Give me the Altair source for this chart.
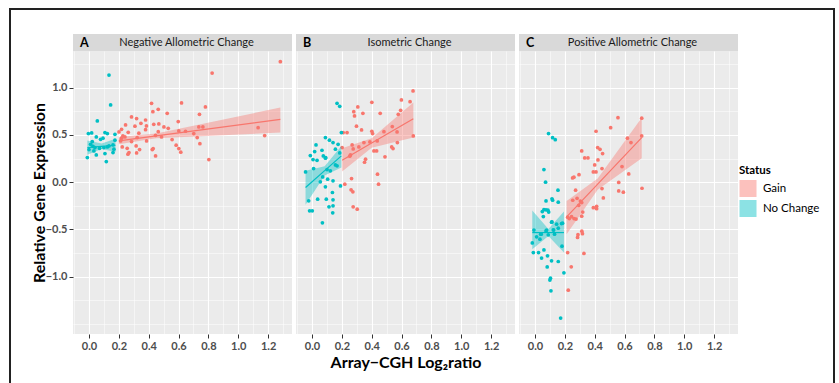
import altair as alt
import pandas as pd

# ---------------- data ----------------
panel_ids = ["A", "B", "C"]
panel_titles = ["Negative Allometric Change", "Isometric Change", "Positive Allometric Change"]
statuses = ["Gain", "No Change"]
status_colors = ["#F8766D", "#00BFC4"]

x_breaks = [-0.1, 0.0, 0.1, 0.2, 0.3, 0.4, 0.5, 0.6, 0.7, 0.8, 0.9, 1.0, 1.1, 1.2, 1.3]
y_breaks = [-1.5, -1.25, -1.0, -0.75, -0.5, -0.25, 0.0, 0.25, 0.5, 0.75, 1.0, 1.25]
x_domain = [-0.107, 1.36]
y_domain = [-1.606, 1.388]

# Panel A  (Negative Allometric Change)
a_nc_x = [-0.004, 0.018, 0.107, 0.123, 0.174, 0.049, 0.078, 0.094, 0.022, 0.011, 0.040, 0.071,
          0.100, 0.123, 0.134, 0.161, 0.167, 0.161, 0.107, 0.049, 0.033, -0.011, 0.116, 0.174,
          0.000, 0.134, 0.145, 0.056, 0.027]
a_nc_y = [0.514, 0.521, 0.525, 0.514, 0.507, 0.479, 0.454, 0.465, 0.430, 0.401, 0.366, 0.359,
          0.366, 0.373, 0.384, 0.394, 0.349, 0.313, 0.303, 0.289, 0.331, 0.261, 0.218, 0.444,
          0.345, 1.134, 0.817, 0.648, 0.380]
a_g_x = [1.282, 0.825, 0.419, 0.620, 0.464, 0.428, 0.780, 0.524, 0.740, 0.285, 0.319, 0.379,
         0.598, 0.348, 0.245, 0.434, 0.468, 0.308, 0.385, 0.502, 0.531, 0.736, 0.763, 0.218,
         0.263, 0.379, 0.464, 0.334, 0.602, 0.647, 0.702, 1.133, 1.177, 0.201, 0.227, 0.241,
         0.218, 0.212, 0.323, 0.446, 0.486, 0.557, 0.725, 0.743, 0.584, 0.386, 0.285, 0.223,
         0.256, 0.316, 0.339, 0.424, 0.430, 0.602, 0.615, 0.268, 0.261, 0.319, 0.446, 0.803]
a_g_y = [1.275, 1.155, 0.835, 0.838, 0.771, 0.746, 0.796, 0.729, 0.718, 0.690, 0.673, 0.658,
         0.641, 0.623, 0.606, 0.613, 0.616, 0.592, 0.595, 0.585, 0.570, 0.585, 0.585, 0.560,
         0.528, 0.556, 0.535, 0.518, 0.542, 0.539, 0.514, 0.577, 0.493, 0.532, 0.489, 0.479,
         0.465, 0.437, 0.472, 0.496, 0.479, 0.451, 0.472, 0.408, 0.391, 0.437, 0.430, 0.373,
         0.359, 0.384, 0.345, 0.345, 0.356, 0.356, 0.317, 0.313, 0.296, 0.310, 0.278, 0.239]

# Panel B  (Isometric Change)
b_nc_x = [0.168, 0.186, 0.197, 0.090, 0.117, 0.141, 0.175, 0.027, 0.067, 0.018, 0.157, 0.186,
          -0.011, 0.076, 0.090, 0.007, 0.034, 0.092, -0.043, 0.011, 0.101, 0.123, 0.157, 0.168,
          0.141, 0.105, 0.072, 0.056, 0.090, 0.191, 0.137, -0.022, 0.038, 0.096, 0.141, 0.114,
          0.141, -0.016, 0.002, 0.139, 0.070]
b_nc_y = [0.835, 0.803, 0.525, 0.472, 0.444, 0.419, 0.401, 0.394, 0.338, 0.324, 0.349, 0.310,
          0.282, 0.278, 0.254, 0.239, 0.232, 0.261, 0.109, 0.144, 0.134, 0.120, 0.183, 0.173,
          0.014, 0.032, 0.056, 0.004, -0.049, -0.039, -0.109, -0.197, -0.180, -0.180, -0.187,
          -0.261, -0.250, -0.303, -0.303, -0.324, -0.430]
b_g_x = [0.677, 0.657, 0.599, 0.401, 0.307, 0.280, 0.341, 0.285, 0.457, 0.594, 0.578, 0.298,
         0.332, 0.538, 0.570, 0.482, 0.401, 0.406, 0.679, 0.209, 0.235, 0.437, 0.388, 0.348,
         0.314, 0.572, 0.269, 0.276, 0.202, 0.415, 0.433, 0.534, 0.543, 0.258, 0.253, 0.359,
         0.352, 0.489, 0.439, 0.446, 0.265, 0.220, 0.262, 0.274, 0.276, 0.303]
b_g_y = [0.965, 0.852, 0.870, 0.845, 0.796, 0.746, 0.729, 0.701, 0.729, 0.761, 0.718, 0.592,
         0.553, 0.588, 0.532, 0.535, 0.539, 0.514, 0.489, 0.525, 0.525, 0.437, 0.426, 0.419,
         0.373, 0.419, 0.394, 0.352, 0.366, 0.331, 0.331, 0.373, 0.356, 0.289, 0.275, 0.243,
         0.211, 0.268, 0.085, -0.021, 0.039, -0.021, -0.081, -0.102, -0.261, -0.285]

# Panel C  (Positive Allometric Change)
c_nc_x = [0.091, 0.118, 0.136, 0.060, 0.071, 0.154, 0.114, 0.118, 0.074, 0.156, 0.060, 0.074,
          0.087, 0.049, 0.092, 0.056, 0.111, 0.185, -0.007, 0.074, 0.123, 0.156, 0.145, 0.038,
          0.011, -0.018, 0.033, 0.089, 0.131, 0.181, -0.011, 0.024, 0.060, 0.044, 0.084, 0.111,
          0.156, 0.082, 0.194, 0.104, 0.100, 0.107, 0.172, 0.114, 0.178, 0.078, 0.125, 0.042]
c_nc_y = [0.514, 0.471, 0.450, 0.134, 0.000, -0.085, -0.176, -0.190, -0.198, -0.212, -0.290,
          -0.292, -0.296, -0.311, -0.316, -0.363, -0.423, -0.433, -0.507, -0.515, -0.504, -0.486,
          -0.444, -0.550, -0.578, -0.642, -0.603, -0.557, -0.550, -0.677, -0.744, -0.744, -0.716,
          -0.803, -0.779, -0.832, -0.839, -0.896, -0.959, -1.015, -1.035, -1.149, -1.438,
          -0.420, -0.438, -0.507, -0.507, -0.550]
c_g_x = [0.556, 0.507, 0.409, 0.619, 0.643, 0.715, 0.715, 0.583, 0.313, 0.420, 0.436, 0.453,
         0.333, 0.355, 0.422, 0.400, 0.449, 0.391, 0.409, 0.628, 0.295, 0.261, 0.252, 0.561,
         0.561, 0.592, 0.717, 0.449, 0.272, 0.458, 0.253, 0.282, 0.304, 0.313, 0.293, 0.391,
         0.413, 0.413, 0.320, 0.219, 0.230, 0.245, 0.262, 0.275, 0.313, 0.314, 0.318, 0.288,
         0.285, 0.328, 0.219, 0.243, 0.223]
c_g_y = [0.683, 0.577, 0.539, 0.465, 0.419, 0.677, 0.489, 0.165, 0.331, 0.366, 0.348, 0.303,
         0.257, 0.257, 0.236, 0.183, 0.144, 0.109, 0.109, 0.088, 0.080, 0.053, 0.045, -0.003,
         -0.092, -0.106, -0.064, -0.067, -0.085, -0.166, -0.191, -0.170, -0.199, -0.216, -0.245,
         -0.270, -0.280, -0.255, -0.316, -0.370, -0.385, -0.365, -0.385, -0.390, -0.360, -0.518,
         -0.545, -0.555, -0.585, -0.754, -0.744, -0.895, -1.142]

# Fitted trend lines and 95% bands at start / narrowest / end
fit_A_gain_x = [0.200, 0.450, 1.282]
fit_A_gain_y = [0.437, 0.490, 0.665]
fit_A_gain_lo = [0.401, 0.465, 0.525]
fit_A_gain_hi = [0.479, 0.515, 0.789]
fit_A_nc_x = [-0.011, 0.085, 0.178]
fit_A_nc_y = [0.366, 0.379, 0.391]
fit_A_nc_lo = [0.290, 0.350, 0.320]
fit_A_nc_hi = [0.440, 0.410, 0.460]
fit_B_gain_x = [0.202, 0.400, 0.679]
fit_B_gain_y = [0.232, 0.415, 0.672]
fit_B_gain_lo = [0.113, 0.365, 0.472]
fit_B_gain_hi = [0.359, 0.465, 0.842]
fit_B_nc_x = [-0.043, 0.085, 0.197]
fit_B_nc_y = [-0.056, 0.122, 0.278]
fit_B_nc_lo = [-0.239, 0.070, 0.155]
fit_B_nc_hi = [0.120, 0.170, 0.384]
fit_C_gain_x = [0.212, 0.420, 0.715]
fit_C_gain_y = [-0.367, -0.020, 0.472]
fit_C_gain_lo = [-0.550, -0.080, 0.254]
fit_C_gain_hi = [-0.198, 0.040, 0.683]
fit_C_nc_x = [-0.018, 0.090, 0.194]
fit_C_nc_y = [-0.533, -0.533, -0.533]
fit_C_nc_lo = [-0.710, -0.570, -0.745]
fit_C_nc_hi = [-0.300, -0.495, -0.310]

series = {
    ("A", "Gain"): (a_g_x, a_g_y), ("A", "No Change"): (a_nc_x, a_nc_y),
    ("B", "Gain"): (b_g_x, b_g_y), ("B", "No Change"): (b_nc_x, b_nc_y),
    ("C", "Gain"): (c_g_x, c_g_y), ("C", "No Change"): (c_nc_x, c_nc_y),
}
fits_in = {
    ("A", "Gain"): (fit_A_gain_x, fit_A_gain_y, fit_A_gain_lo, fit_A_gain_hi),
    ("A", "No Change"): (fit_A_nc_x, fit_A_nc_y, fit_A_nc_lo, fit_A_nc_hi),
    ("B", "Gain"): (fit_B_gain_x, fit_B_gain_y, fit_B_gain_lo, fit_B_gain_hi),
    ("B", "No Change"): (fit_B_nc_x, fit_B_nc_y, fit_B_nc_lo, fit_B_nc_hi),
    ("C", "Gain"): (fit_C_gain_x, fit_C_gain_y, fit_C_gain_lo, fit_C_gain_hi),
    ("C", "No Change"): (fit_C_nc_x, fit_C_nc_y, fit_C_nc_lo, fit_C_nc_hi),
}

# ---------------- tables ----------------
pt_rows, fit_rows = [], []
for (p, s), (xs, ys) in series.items():
    for xv, yv in zip(xs, ys):
        pt_rows.append({"panel": p, "status": s, "x": xv, "y": yv})
for (p, s), (fx, fy, flo, fhi) in fits_in.items():
    for a, b, c, d in zip(fx, fy, flo, fhi):
        fit_rows.append({"panel": p, "status": s, "x": a, "y": b, "lo": c, "hi": d})
pts = pd.DataFrame(pt_rows)
fits = pd.DataFrame(fit_rows)

W, H = 219, 283
FONT = "Lato"
color_scale = alt.Scale(domain=statuses, range=status_colors)
legend = alt.Legend(
    title="Status", orient="none", legendX=666, legendY=114,
    symbolType="square", symbolSize=290, symbolOpacity=0.45, symbolStrokeWidth=0,
    titleFont=FONT, titleFontSize=11.5, titleFontWeight="bold", titleColor="black",
    titlePadding=3,
    labelFont=FONT, labelFontSize=11.5, labelColor="black", labelOffset=6,
    rowPadding=2,
)
color_enc = alt.Color("status:N", scale=color_scale, legend=legend)

maj_x = "abs(round(datum.value*10)) % 2 == 0"
maj_y = "abs(round(datum.value*4)) % 2 == 0 && abs(datum.value) < 1.1"


def x_axis(show_title):
    kw = dict(
        values=x_breaks,
        labelExpr="abs(round(datum.value*10)) % 2 == 0 ? format(datum.value, '.1f') : ''",
        grid=True, gridColor="white",
        gridWidth={"condition": {"test": maj_x, "value": 1.1}, "value": 0.5},
        tickOpacity={"condition": {"test": maj_x, "value": 1}, "value": 0},
        tickColor="#333333", tickSize=4, tickWidth=1,
        domain=False, labelOverlap=False, labelFlush=False,
        labelFont=FONT, labelFontSize=11, labelFontWeight="bold", labelColor="#4D4D4D",
        labelPadding=2,
        titleFont=FONT, titleFontSize=16, titleFontWeight="bold", titleColor="black",
        titlePadding=3,
    )
    kw["title"] = "Array\u2212CGH Log\u2082ratio" if show_title else None
    return alt.Axis(**kw)


def y_axis(show):
    kw = dict(
        values=y_breaks,
        grid=True, gridColor="white",
        gridWidth={"condition": {"test": maj_y, "value": 1.1}, "value": 0.5},
        domain=False, labelOverlap=False, labelFlush=False,
    )
    if show:
        kw.update(
            labelExpr="abs(round(datum.value*4)) % 2 == 0 && abs(datum.value) < 1.1 ? format(datum.value, '.1f') : ''",
            tickOpacity={"condition": {"test": maj_y, "value": 1}, "value": 0},
            tickColor="#333333", tickSize=4, tickWidth=1,
            labelFont=FONT, labelFontSize=11, labelFontWeight="bold", labelColor="#4D4D4D",
            labelPadding=2,
            title="Relative Gene Expression",
            titleFont=FONT, titleFontSize=16, titleFontWeight="bold", titleColor="black",
            titlePadding=-2,
        )
    else:
        kw.update(labels=False, ticks=False, title=None)
    return alt.Axis(**kw)


def make_panel(i):
    p = panel_ids[i]
    xs = alt.Scale(domain=x_domain, nice=False, zero=False)
    ys = alt.Scale(domain=y_domain, nice=False, zero=False)
    xax = x_axis(i == 1)
    yax = y_axis(i == 0)
    pdat = pts[pts.panel == p]
    fdat = fits[fits.panel == p]

    points = alt.Chart(pdat).mark_circle(size=14, opacity=1).encode(
        x=alt.X("x:Q", scale=xs, axis=xax),
        y=alt.Y("y:Q", scale=ys, axis=yax),
        color=color_enc,
    )
    band = alt.Chart(fdat).mark_area(opacity=0.4).encode(
        x=alt.X("x:Q", scale=xs, axis=xax),
        y=alt.Y("lo:Q", scale=ys, axis=yax),
        y2="hi:Q",
        color=color_enc,
    )
    line = alt.Chart(fdat).mark_line(strokeWidth=1.2).encode(
        x=alt.X("x:Q", scale=xs, axis=xax),
        y=alt.Y("y:Q", scale=ys, axis=yax),
        color=color_enc,
    )
    strip_df = pd.DataFrame({"letter": [p], "title": [panel_titles[i]]})
    strip = alt.Chart(strip_df).mark_rect(color="#D9D9D9").encode(
        x=alt.value(0), x2=alt.value(W), y=alt.value(-17), y2=alt.value(0)
    )
    letter = alt.Chart(strip_df).mark_text(
        align="left", baseline="middle", font=FONT, fontSize=12.5, fontWeight="bold", color="black"
    ).encode(text="letter:N", x=alt.value(7), y=alt.value(-8))
    title = alt.Chart(strip_df).mark_text(
        align="center", baseline="middle", font=FONT, fontSize=11, color="#1A1A1A"
    ).encode(text="title:N", x=alt.value(W / 2 + 4), y=alt.value(-8))
    layers = [points, band, line, strip, letter, title]
    if i == 0:
        one = pd.DataFrame({"k": [0]})
        fr = dict(color="#222222", strokeWidth=2, strokeCap="square")
        layers += [
            alt.Chart(one).mark_rule(**fr).encode(x=alt.value(-63), y=alt.value(-42), y2=alt.value(333)),
            alt.Chart(one).mark_rule(**fr).encode(x=alt.value(-63), x2=alt.value(761), y=alt.value(-42)),
            alt.Chart(one).mark_rule(**fr).encode(x=alt.value(761), y=alt.value(-42), y2=alt.value(333)),
        ]
    return alt.layer(*layers).properties(width=W, height=H)


chart = alt.hconcat(
    make_panel(0), make_panel(1), make_panel(2), spacing=4, bounds="flush"
).resolve_scale(
    color="shared"
).resolve_legend(
    color="shared"
).properties(
    padding={"left": 8, "top": 7, "right": 2, "bottom": 0},
    background="white",
).configure_view(
    fill="#EBEBEB", strokeWidth=0
)

chart.save("out.html", embed_options={"renderer": "svg", "actions": False})
